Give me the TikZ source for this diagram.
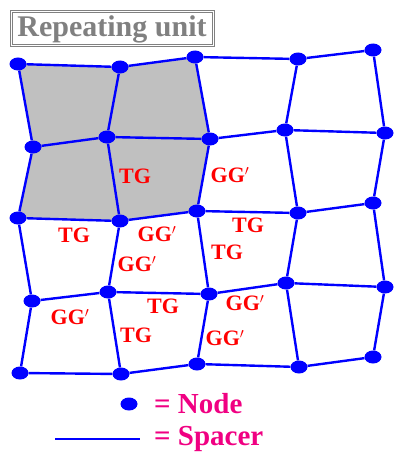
\documentclass[tikz,border=0pt]{standalone}
\usepackage{fontspec}
\setmainfont{Liberation Serif}
\usepackage{tikz}
\usetikzlibrary{shapes.geometric,backgrounds}
\definecolor{netblue}{RGB}{0,0,255}
\definecolor{unitgray}{RGB}{192,192,192}
\definecolor{titlegray}{RGB}{128,128,128}
\definecolor{labelred}{RGB}{255,0,0}
\definecolor{legendpink}{RGB}{240,0,130}
\tikzstyle{spacer} = [line width=2.4pt, color=netblue]
\tikzstyle{junction} = [ellipse, fill=netblue, inner sep=0pt, minimum width=17pt, minimum height=13pt]
\tikzstyle{conf} = [text=labelred, font=\fontsize{22}{22}\selectfont\bfseries, inner sep=0pt]
\tikzstyle{legend} = [text=legendpink, font=\fontsize{29}{29}\selectfont\bfseries, anchor=west, inner sep=0pt]

\begin{document}
\begin{tikzpicture}[x=1pt, y=-1pt]
\useasboundingbox (0,0) rectangle (394,452);
% Title
\node (title) [draw=titlegray, double=white, double distance=1pt, line width=1pt, text=titlegray, font=\fontsize{30}{30}\selectfont\bfseries, minimum width=202pt, minimum height=34pt, inner sep=1pt] at (112,29) {Repeating unit};

% Nodes
\node (a0) [junction] at (18,64) {};  \node (a1) [junction] at (120,67) {};
\node (a2) [junction] at (195,57) {}; \node (a3) [junction] at (298,59) {};
\node (a4) [junction] at (373,50) {};
\node (b0) [junction] at (33,147) {}; \node (b1) [junction] at (107,137) {};
\node (b2) [junction] at (210,139) {}; \node (b3) [junction] at (285,130) {};
\node (b4) [junction] at (385,133) {};
\node (c0) [junction] at (18,218) {}; \node (c1) [junction] at (120,221) {};
\node (c2) [junction] at (197,211) {}; \node (c3) [junction] at (298,213) {};
\node (c4) [junction] at (373,203) {};
\node (d0) [junction] at (32,301) {}; \node (d1) [junction] at (108,292) {};
\node (d2) [junction] at (209,294) {}; \node (d3) [junction] at (286,283) {};
\node (d4) [junction] at (385,287) {};
\node (e0) [junction] at (20,373) {}; \node (e1) [junction] at (121,374) {};
\node (e2) [junction] at (197,364) {}; \node (e3) [junction] at (299,367) {};
\node (e4) [junction] at (373,357) {};

% Repeating unit
\begin{scope}[on background layer]
\fill[unitgray] (a0.center) -- (a1.center) -- (a2.center) -- (b2.center) -- (c2.center) -- (c1.center) -- (c0.center) -- (b0.center) -- cycle;
\end{scope}

% Spacers
\draw[spacer] (a0) -- (a1) -- (a2) -- (a3) -- (a4);
\draw[spacer] (b0) -- (b1) -- (b2) -- (b3) -- (b4);
\draw[spacer] (c0) -- (c1) -- (c2) -- (c3) -- (c4);
\draw[spacer] (d0) -- (d1) -- (d2) -- (d3) -- (d4);
\draw[spacer] (e0) -- (e1) -- (e2) -- (e3) -- (e4);
\draw[spacer] (a0) -- (b0) -- (c0) -- (d0) -- (e0);
\draw[spacer] (a1) -- (b1) -- (c1) -- (d1) -- (e1);
\draw[spacer] (a2) -- (b2) -- (c2) -- (d2) -- (e2);
\draw[spacer] (a3) -- (b3) -- (c3) -- (d3) -- (e3);
\draw[spacer] (a4) -- (b4) -- (c4) -- (d4) -- (e4);

% Conformations
\node (tg1) [conf] at (135,176) {TG};
\node (gg1) [conf] at (230,175) {GG$'$};
\node (tg2) [conf] at (74,235) {TG};
\node (gg2) [conf] at (157,234) {GG$'$};
\node (gg3) [conf] at (137,264) {GG$'$};
\node (tg3) [conf] at (248,225) {TG};
\node (tg4) [conf] at (227,252) {TG};
\node (gg4) [conf] at (70,317) {GG$'$};
\node (tg5) [conf] at (163,306) {TG};
\node (tg6) [conf] at (136,335) {TG};
\node (gg5) [conf] at (245,303) {GG$'$};
\node (gg6) [conf] at (225,338) {GG$'$};

% Legend
\node (legdot) [junction] at (129,404) {};
\node (legnode) [legend] at (154,404) {=\ Node};
\coordinate (legstart) at (55,439);
\coordinate (legend) at (140,439);
\draw[line width=1.6pt, color=netblue] (legstart) -- (legend);
\node (legspacer) [legend] at (154,439) {=\ Spacer};
\end{tikzpicture}
\end{document}
